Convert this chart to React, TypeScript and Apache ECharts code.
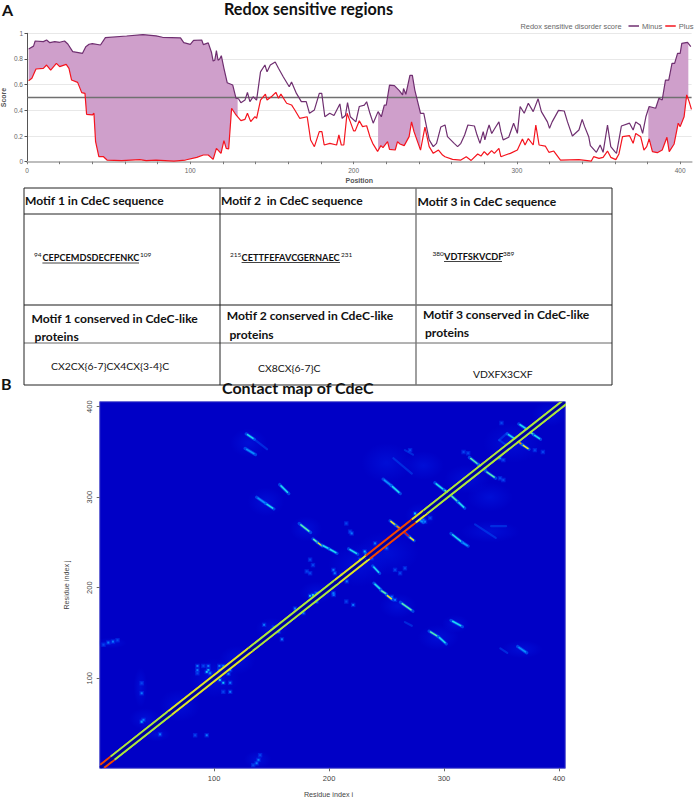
import React, { useEffect, useRef } from "react";
import * as echarts from "echarts";

const minusScore: [number, number][] = [
  [1,.878],[4,.90],[5,.94],[10,.935],[12,.948],[14,.927],[17,.935],[20,.93],[23,.94],[25,.917],[28,.857],[34,.844],[36,.896],[38,.915],[40,.92],[45,.909],[48,.966],[61,.979],[71,.99],[79,.98],[83,.969],[94,.964],[96,.927],[100,.914],[102,.945],[107,.948],[108,.912],[111,.925],[113,.85],[114,.784],[115,.79],[116,.865],[117,.79],[118,.80],[119,.826],[120.6,.727],[122.6,.615],[126,.597],[128,.494],[129.5,.49],[131,.46],[133.5,.48],[135,.54],[136.5,.468],[138.5,.506],[140.6,.48],[143,.70],[145.7,.753],[147,.70],[149,.753],[152,.777],[154,.728],[157,.66],[160.6,.584],[162,.62],[165,.532],[168,.468],[171,.468],[173,.377],[176,.403],[179,.532],[180.5,.532],[182.4,.35],[185.4,.377],[188,.36],[191.6,.45],[193,.338],[195,.36],[196.3,.46],
  [198,.35],[201.4,.31],[203.5,.43],[206.6,.44],[208,.467],[210,.377],[212,.30],[215,.39],[217,.35],[218.8,.44],[220,.44],[222,.597],[225,.592],[228,.553],[230,.52],[230.6,.57],[232,.525],[234.5,.673],[236,.673],[237.5,.558],[241,.377],[243,.377],[246.3,.17],[248.8,.117],[250.8,.143],[253.4,.27],[256,.286],[257.5,.195],[261.6,.143],[263.7,.117],[265.7,.143],[268,.208],[270,.286],[274,.278],[275.3,.22],[277.4,.143],[279.4,.234],[280.4,.17],[282,.247],[283,.286],[284.6,.22],[287,.27],[289,.31],[290.2,.234],[291.6,.17],[295,.19],[298,.30],[300.3,.221],[302,.43],[304.5,.377],[307,.455],[310,.39],[313,.49],[315,.39],[318.7,.31],[320,.26],[321.6,.31],[325.5,.40],[329,.395],[331,.31],[334,.2],[338,.247],[340,.33],[341.5,.273],[344,.195],[345,.125],[348.7,.073],[351,.13],[352.8,.073],[355.5,.286],[357.5,.117],[360,.078],[361,.065],[362.5,.17],[364,.278],[369,.30],[371.2,.247],[372.8,.31],[375.5,.286],[377,.221],[379,.35],[381,.43],[385,.416],[387,.494],[389,.481],[391,.636],[393,.636],[395,.766],[396.6,.766],[398.4,.844],[400,.844],[401,.922],[404.5,.93],[406.5,.896],
];
const plusScore: [number, number][] = [
  [1,.631],[3,.65],[5.5,.722],[10,.727],[12,.753],[14.5,.714],[18,.766],[20,.74],[24,.758],[25.7,.727],[27.3,.636],[31,.618],[33.5,.538],[35.5,.532],[36.5,.369],[40,.364],[41,.377],[42,.156],[44,.04],[46.7,.04],[49,.013],[58,.008],[69,.016],[73,.008],[79,.013],[90,.005],[97,.013],[104,.034],[108,.052],[111,.052],[114,.018],[116,.104],[118.8,.065],[120.6,.164],[122,.104],[123.5,.10],[125.3,.416],[128,.364],[131,.32],[133.5,.33],[135,.377],[137,.312],[139.6,.351],[140.6,.338],[143,.48],[146,.527],[147,.48],[150,.51],[152.4,.54],[154,.494],[155.5,.526],[159,.455],[162,.442],[164,.403],[167,.338],[171.6,.35],[173.7,.169],[176,.117],[179,.234],[180.6,.234],[182,.13],[185.5,.143],[189.6,.13],[191,.208],[192.5,.13],[194,.13],[196,.377],
  [198,.31],[200,.24],[201,.24],[203.5,.319],[205.5,.273],[208,.28],[210,.195],[211.7,.143],[214.7,.08],[216.7,.125],[218,.11],[220.8,.156],[222,.096],[225.5,.091],[226.9,.156],[228.4,.138],[231,.125],[234,.195],[235.5,.31],[237,.234],[241,.09],[243.7,.27],[246.3,.117],[248.8,.065],[252,.091],[254.5,.052],[256,.039],[260.6,.018],[265.7,.013],[269,.039],[272,.01],[276,.06],[278,.044],[280,.078],[282,.052],[284.5,.086],[286.2,.065],[289,.104],[290.2,.039],[293,.052],[296,.065],[300.3,.091],[303.4,.177],[305,.13],[307,.18],[310,.13],[311.6,.286],[313.6,.13],[317.4,.122],[319.6,.073],[322.6,.083],[326.7,.013],[338,.016],[345.6,.005],[347,.039],[350.3,.026],[352.8,.034],[355.5,.083],[357.5,.034],[360.6,.016],[362.5,.06],[364.7,.195],[369,.203],[371.2,.143],[372.8,.22],[375.8,.195],[377.8,.091],[379.5,.117],[381,.177],[383,.078],[386,.07],[389,.091],[391.9,.19],[393.3,.078],[396.3,.138],[398.8,.3],[400,.273],[402.4,.35],[404,.52],[405.5,.468],[406.9,.408],
];
const shadedRegions: [number, number][] = [[1, 129], [215, 241], [380.5, 405]];
const positionTicks = [0,20,40,60,80,100,120,140,160,180,200,220,240,260,280,300,320,340,360,380,400];
const positionLabels = [0,100,200,300,400];
const scoreTicks = [0,.2,.4,.6,.8,1];
const residueTicks = [100,200,300,400];

const tableHead = ["Motif 1 in CdeC sequence", "Motif 2  in CdeC sequence", "Motif 3 in CdeC sequence"];
const motifSeqs = ["CEPCEMDSDECFENKC", "CETTFEFAVCGERNAEC", "VDTFSKVCDF"];
const motifFrom = ["94", "215", "380"];
const motifTo = ["109", "231", "389"];
const conservedHead = "conserved in CdeC-like";
const patterns = ["CX2CX{6-7}CX4CX{3-4}C", "CX8CX{6-7}C", "VDXFX3CXF"];

// contact map: [from, to, level] along the main diagonal
const diagonalRuns: [number, number, number][] = [[1,10,2],[10,60,0],[60,130,1],[130,205,0],[205,232,1],[232,272,2],[272,282,1],[282,405,0]];
// contact ridges: [i1, j1, i2, j2, level]
const ridges: number[][] = [
  [128,370,135,364,2],[135,364,146,353,0],[127,354,136,347,1],[157,314,165,304,2],[137,300,145,293,1],[145,293,152,287,2],
  [174,271,184,261,3],[186,254,190,250,3],[190,250,194,246,4],[194,247,200,243,2],[200,243,207,238,2],[217,243,225,237,2],
  [232,238,232,229,2],[238,224,244,216,2],[239,205,245,198,2],[245,197,250,193,3],[250,192,255,187,4],[262,184,273,174,3],
  [247,320,254,313,1],[254,313,262,304,2],[253,274,258,269,4],[258,269,265,262,5],[265,262,270,256,6],[270,256,274,252,4],
  [256,343,272,326,0],[266,352,273,347,0],[292,316,300,308,2],[300,308,306,303,3],[306,302,312,295,3],[312,295,318,288,2],
  [322,344,330,336,3],[330,336,336,331,3],[336,329,345,321,3],[306,260,316,250,2],[316,250,321,246,1],
  [355,370,362,364,2],[362,364,368,358,5],[368,358,374,353,4],[365,381,372,375,2],[372,375,378,369,3],[378,369,384,364,2],
  [327,270,345,255,0],[341,268,354,268,0],[287,152,295,146,3],[295,146,302,138,2],[306,164,316,157,2],[364,135,372,128,1],
  [349,133,355,128,0],[266,162,272,158,0],[276,277,282,272,1],[348,363,355,371,0],[348,363,358,354,0],
];
// isolated bright contacts: [i, j, level]
const speckles: number[][] = [
  [85.5,113.6,1],[85.5,109,1],[85.5,105.5,0],[95,113.6,1],[95,109,2],[93.6,107,2],[96.5,105.5,1],[90.7,113.6,0],[104.6,113.6,1],[108,113.6,1],[104.6,109,1],[114,109,1],[112.5,104.8,1],[105,98,2],[108,95,2],[114,95,1],[108,85,0],[114,85,1],
  [37,52,2],[38.6,54,1],[53,38,1],[37,83.4,1],[37,94.5,0],[3.8,137,0],[8,139.4,1],[12,140.5,1],[16,142,0],[138.6,9.8,1],[137,6,1],[134,4,0],[140,15,0],[83.5,37,0],[93.6,37,1],
  [143.5,159,1],[152,156,1],[156,151.6,2],[159,143,1],[170.4,177,1],[177.7,172,1],[183.5,191,2],[189,184.7,2],[204,192,1],[215,184.7,0],[221,181,1],
  [183.5,231,0],[186,225,0],[180.6,218,0],[183.5,216,0],[203.8,219.7,1],[205,216,1],[211,214,2],[186,192,2],[189,194,1],[203.8,194,1],[231,240,2],[227,231,2],[237,232.6,1],[240,249,1],[244.4,245.5,1],[250,243.6,1],[241.5,240,1],[215,271,0],[218.3,262,0],[219.7,260,1],[257.4,219.7,0],[261.8,216,0],[266,221.5,0],[254.5,190,1],[257.4,186.6,1],[274.8,282,2],[282,275,1],
  [283.5,273,1],[288,277,0],[317,350,0],[321,348.6,0],[348.7,343,1],[351.6,341,0],[348.7,321,0],[351.6,319,0],[379,352,0],[386,350,0],[350,382,0],[270.5,352,0],[215.4,207,1],
];
// diffuse low-probability patches: [i, j, spreadI, spreadJ]
const patches: number[][] = [
  [100,100,22,22],[150,155,14,12],[190,195,16,12],[225,225,26,24],[250,238,28,24],[280,280,14,14],[320,320,20,16],[360,360,26,22],[392,392,16,14],[40,55,14,12],[50,38,12,8],[138,10,12,10],[10,139,14,6],[36,90,6,22],[250,338,22,22],[282,335,18,16],[130,360,16,16],[145,295,16,16],[180,265,14,14],[295,145,18,14],[340,262,26,12],[310,160,12,10],[368,132,18,10],[260,180,16,14],[70,70,18,18],[120,120,16,16],[340,300,20,16],
];

const lineFont = "'Liberation Sans', Arial, sans-serif";
const textFont = "Lato, 'Noto Sans', sans-serif";
const jet = ["#0a5cf6", "#0a90ff", "#20d8f0", "#58ecb4", "#f0ea28", "#ff8c00", "#e81010"];
const speckleColors = ["#0644ee", "#0a78ff", "#14c8f8"];

function scoreAt(series: [number, number][], x: number) {
  for (let i = 1; i < series.length; i++) {
    if (series[i][0] >= x) {
      const [a, b] = [series[i - 1], series[i]];
      return a[1] + ((b[1] - a[1]) * (x - a[0])) / (b[0] - a[0] || 1);
    }
  }
  return series[series.length - 1][1];
}

function txt(text: string, x: number, y: number, size: number, weight: string | number = 400, extra: any = {}) {
  return { type: "text", x, y, silent: true, style: { text, fontFamily: textFont, fontSize: size, fontWeight: weight, fill: "#111", verticalAlign: "middle", align: "left", ...extra } };
}
function rule(x1: number, y1: number, x2: number, y2: number, stroke = "#222", lineWidth = 1) {
  return { type: "line", silent: true, shape: { x1, y1, x2, y2 }, style: { stroke, lineWidth } };
}

function buildGraphics() {
  const cols = [24, 220, 416, 612];
  const rows = [188, 214, 305, 343, 385];
  const g: any[] = [];
  rows.forEach((y, i) => g.push(rule(cols[0], y, cols[3], y, i === 2 || i === 3 ? "#666" : "#222", i === 2 ? 1.4 : 1)));
  cols.forEach((x, i) => g.push(rule(x, rows[0], x, rows[4], i === 2 ? "#777" : "#222", i === 2 ? 1.4 : 1)));
  g.push(txt("A", 2, 9, 16, 700), txt("B", 1, 383, 16, 700));
  g.push(txt("Redox sensitive regions", 224, 8.5, 16.2, 700));
  g.push(txt("Contact map of CdeC", 222, 387, 16, 700));
  g.push({ type: "text", x: 520.5, y: 26, silent: true, style: { text: "Redox sensitive disorder score", fontFamily: lineFont, fontSize: 7.4, fill: "#666", verticalAlign: "middle" } });
  const headX = [25, 221, 417.5], headY = [200.5, 200, 201];
  tableHead.forEach((t, i) => g.push(txt(t, headX[i], headY[i], 12.1, 700)));
  const seqSup = [34, 230, 432.5], seqX = [42.4, 241.6, 444], seqEnd = [140, 341, 503], seqY = [257.5, 257, 256];
  motifSeqs.forEach((t, i) => {
    g.push(txt(motifFrom[i], seqSup[i], seqY[i] - 3, 6.5));
    g.push(txt(t, seqX[i], seqY[i], 9.2, 700));
    g.push(txt(motifTo[i], seqEnd[i], seqY[i] - 3, 6.5));
    g.push(rule(seqX[i], seqY[i] + 5.5, seqEnd[i] - 1, seqY[i] + 5.5, "#111", 0.8));
  });
  const consX = [31.5, 226.8, 423], consY = [318, 315.5, 314], protX = [34.6, 229.5, 425], protY = [336, 334, 332];
  [0, 1, 2].forEach((i) => {
    g.push(txt(`Motif ${i + 1} ${conservedHead}`, consX[i], consY[i], 12.1, 700));
    g.push(txt("proteins", protX[i], protY[i], 12.1, 700));
  });
  const patX = [51, 258, 473], patY = [366, 368, 374];
  patterns.forEach((t, i) => g.push(txt(t, patX[i], patY[i], 10.4)));
  return g;
}

export default function App() {
  const ref = useRef<HTMLDivElement>(null);
  useEffect(() => {
    const chart = echarts.init(ref.current!, undefined, { renderer: "svg" });
    const option: any = {
      animation: false,
      backgroundColor: "#fff",
      legend: {
        data: ["Minus", "Plus"], orient: "horizontal", left: 628.5, top: 22, width: 90, icon: "rect", itemWidth: 10.5, itemHeight: 1.5, itemGap: 3, padding: 0,
        textStyle: { fontFamily: lineFont, fontSize: 7.6, color: "#666", padding: [0, 0, 0, -2] },
      },
      graphic: buildGraphics(),
      grid: [
        { left: 27, top: 33.3, width: 664.6, height: 128.4, outerBoundsMode: "none" },
        { left: 99.7, top: 401.7, width: 465.6, height: 366.6, outerBoundsMode: "none", show: true, backgroundColor: "#0000c6", borderColor: "#5a5ad0", borderWidth: 1 },
      ],
      xAxis: [
        {
          gridIndex: 0, type: "value", min: 0, max: 407, name: "Position", nameLocation: "middle", nameGap: 15.5,
          nameTextStyle: { fontFamily: lineFont, fontSize: 7, fontWeight: 700, color: "#555" },
          axisLine: { show: true, lineStyle: { color: "#bdbdbd", width: 2 } },
          axisTick: { show: true, length: 2.5, customValues: positionTicks, lineStyle: { color: "#777" } },
          axisLabel: { customValues: positionLabels, fontFamily: lineFont, fontSize: 6.5, color: "#666", margin: 5 },
          splitLine: { show: false },
        },
        {
          gridIndex: 1, type: "value", min: 0.5, max: 405.5, name: "Residue index i", nameLocation: "middle", nameGap: 22.5,
          nameTextStyle: { fontFamily: lineFont, fontSize: 7.2, color: "#444", padding: [0, 8, 0, 0] },
          axisLine: { show: false },
          axisTick: { show: true, length: 3, customValues: residueTicks, lineStyle: { color: "#666" } },
          axisLabel: { customValues: residueTicks, fontFamily: lineFont, fontSize: 7.5, color: "#444", margin: 6 },
          splitLine: { show: false },
        },
      ],
      yAxis: [
        {
          gridIndex: 0, type: "value", min: 0, max: 1, name: "Score", nameLocation: "middle", nameGap: 20, nameMoveOverlap: false,
          nameTextStyle: { fontFamily: lineFont, fontSize: 7, fontWeight: 700, color: "#555" },
          axisLine: { show: true, lineStyle: { color: "#555" } },
          axisTick: { show: true, length: 2.5, customValues: scoreTicks, lineStyle: { color: "#555" } },
          axisLabel: { customValues: scoreTicks, fontFamily: lineFont, fontSize: 6.5, color: "#666", margin: 4 },
          splitLine: { show: true, lineStyle: { color: "#e8e8e8" } },
        },
        {
          gridIndex: 1, type: "value", min: 0.5, max: 405.5, name: "Residue index j", nameLocation: "middle", nameGap: 30,
          nameTextStyle: { fontFamily: lineFont, fontSize: 7.2, color: "#444" },
          axisLine: { show: false },
          axisTick: { show: true, length: 3, customValues: residueTicks, lineStyle: { color: "#666" } },
          axisLabel: { customValues: residueTicks, rotate: 90, fontFamily: lineFont, fontSize: 7.5, color: "#444", margin: 6 },
          splitLine: { show: false },
        },
      ],
      series: [
        {
          type: "custom", name: "Redox sensitive", xAxisIndex: 0, yAxisIndex: 0, silent: true, data: shadedRegions,
          renderItem: (_: any, api: any) => {
            const a = api.value(0), b = api.value(1);
            const top = [[a, scoreAt(minusScore, a)], ...minusScore.filter((p) => p[0] > a && p[0] < b), [b, scoreAt(minusScore, b)]];
            const bottom = [[a, scoreAt(plusScore, a)], ...plusScore.filter((p) => p[0] > a && p[0] < b), [b, scoreAt(plusScore, b)]].reverse();
            return { type: "polygon", shape: { points: [...top, ...bottom].map((p) => api.coord(p)) }, style: { fill: "#cf9fcb" } };
          },
        },
        { type: "line", name: "Threshold", xAxisIndex: 0, yAxisIndex: 0, silent: true, showSymbol: false, data: [[0, 0.5], [407, 0.5]], lineStyle: { color: "#707070", width: 1.4 }, itemStyle: { color: "#707070" }, z: 3 },
        { type: "line", name: "Minus", xAxisIndex: 0, yAxisIndex: 0, silent: true, showSymbol: false, data: minusScore, lineStyle: { color: "#6f2f70", width: 1.2 }, itemStyle: { color: "#6f2f70" }, z: 4 },
        { type: "line", name: "Plus", xAxisIndex: 0, yAxisIndex: 0, silent: true, showSymbol: false, data: plusScore, lineStyle: { color: "#f5141e", width: 1.2 }, itemStyle: { color: "#f5141e" }, z: 4 },
        {
          type: "custom", name: "Patches", xAxisIndex: 1, yAxisIndex: 1, silent: true, clip: true, data: patches, z: 2,
          renderItem: (_: any, api: any) => {
            const c = api.coord([api.value(0), api.value(1)]);
            const s = api.size([api.value(2), api.value(3)]);
            return {
              type: "ellipse", shape: { cx: c[0], cy: c[1], rx: s[0], ry: s[1] },
              style: { fill: { type: "radial", x: 0.5, y: 0.5, r: 0.5, colorStops: [{ offset: 0, color: "rgba(0,50,255,0.28)" }, { offset: 1, color: "rgba(0,40,255,0)" }] } },
            };
          },
        },
        {
          type: "custom", name: "Speckles", xAxisIndex: 1, yAxisIndex: 1, silent: true, clip: true, data: speckles, z: 3,
          renderItem: (_: any, api: any) => {
            const c = api.coord([api.value(0), api.value(1)]);
            return {
              type: "group",
              children: [
                { type: "rect", shape: { x: c[0] - 2.2, y: c[1] - 2.2, width: 4.4, height: 4.4 }, style: { fill: "rgba(0,80,255,0.4)" } },
                { type: "rect", shape: { x: c[0] - 1, y: c[1] - 1, width: 2, height: 2 }, style: { fill: speckleColors[api.value(2)] } },
              ],
            };
          },
        },
        {
          type: "custom", name: "Ridges", xAxisIndex: 1, yAxisIndex: 1, silent: true, clip: true, data: ridges, z: 4,
          renderItem: (_: any, api: any) => {
            const a = [api.value(0), api.value(1)];
            const b = [api.value(2), api.value(3)];
            const p = api.coord(a), q = api.coord(b);
            const lv = api.value(4);
            const inner = (t: number) => [p[0] + (q[0] - p[0]) * t, p[1] + (q[1] - p[1]) * t];
            const [u, v] = [inner(0.15), inner(0.85)];
            return {
              type: "group",
              children: [
                { type: "line", shape: { x1: p[0], y1: p[1], x2: q[0], y2: q[1] }, style: { stroke: lv > 0 ? "rgba(0,120,255,0.55)" : "rgba(0,100,255,0.4)", lineWidth: lv > 0 ? 3.2 : 2.2, lineCap: "round" } },
                ...(lv > 0 ? [{ type: "line", shape: { x1: u[0], y1: u[1], x2: v[0], y2: v[1] }, style: { stroke: jet[lv], lineWidth: 1.5, lineCap: "round" } }] : []),
              ],
            };
          },
        },
        {
          type: "custom", name: "Diagonal", xAxisIndex: 1, yAxisIndex: 1, silent: true, clip: true, data: diagonalRuns, z: 5,
          renderItem: (_: any, api: any) => {
            const a = api.value(0), b = api.value(1), lv = api.value(2);
            const outer = ["#f0a020", "#ff7000", "#e01010"][lv];
            const inner = ["#a8ea3c", "#d8e828", "#f04800"][lv];
            const d = 3.4;
            const seg = (x1: number, y1: number, x2: number, y2: number, stroke: string, lineWidth: number) => {
              const p = api.coord([x1, y1]), q = api.coord([x2, y2]);
              return { type: "line", shape: { x1: p[0], y1: p[1], x2: q[0], y2: q[1] }, style: { stroke, lineWidth } };
            };
            return {
              type: "group",
              children: [
                seg(a, a, b, b, "#0000a0", 3),
                seg(a, a + d + 0.8, b, b + d + 0.8, outer, 1),
                seg(a + d + 0.8, a, b + d + 0.8, b, outer, 1),
                seg(a, a + d, b, b + d, inner, 1.9),
                seg(a + d, a, b + d, b, inner, 1.9),
              ],
            };
          },
        },
      ],
    };
    chart.setOption(option);
    return () => chart.dispose();
  }, []);
  return <div ref={ref} style={{ position: "absolute", left: 0, top: 0, width: 696, height: 799 }} />;
}
